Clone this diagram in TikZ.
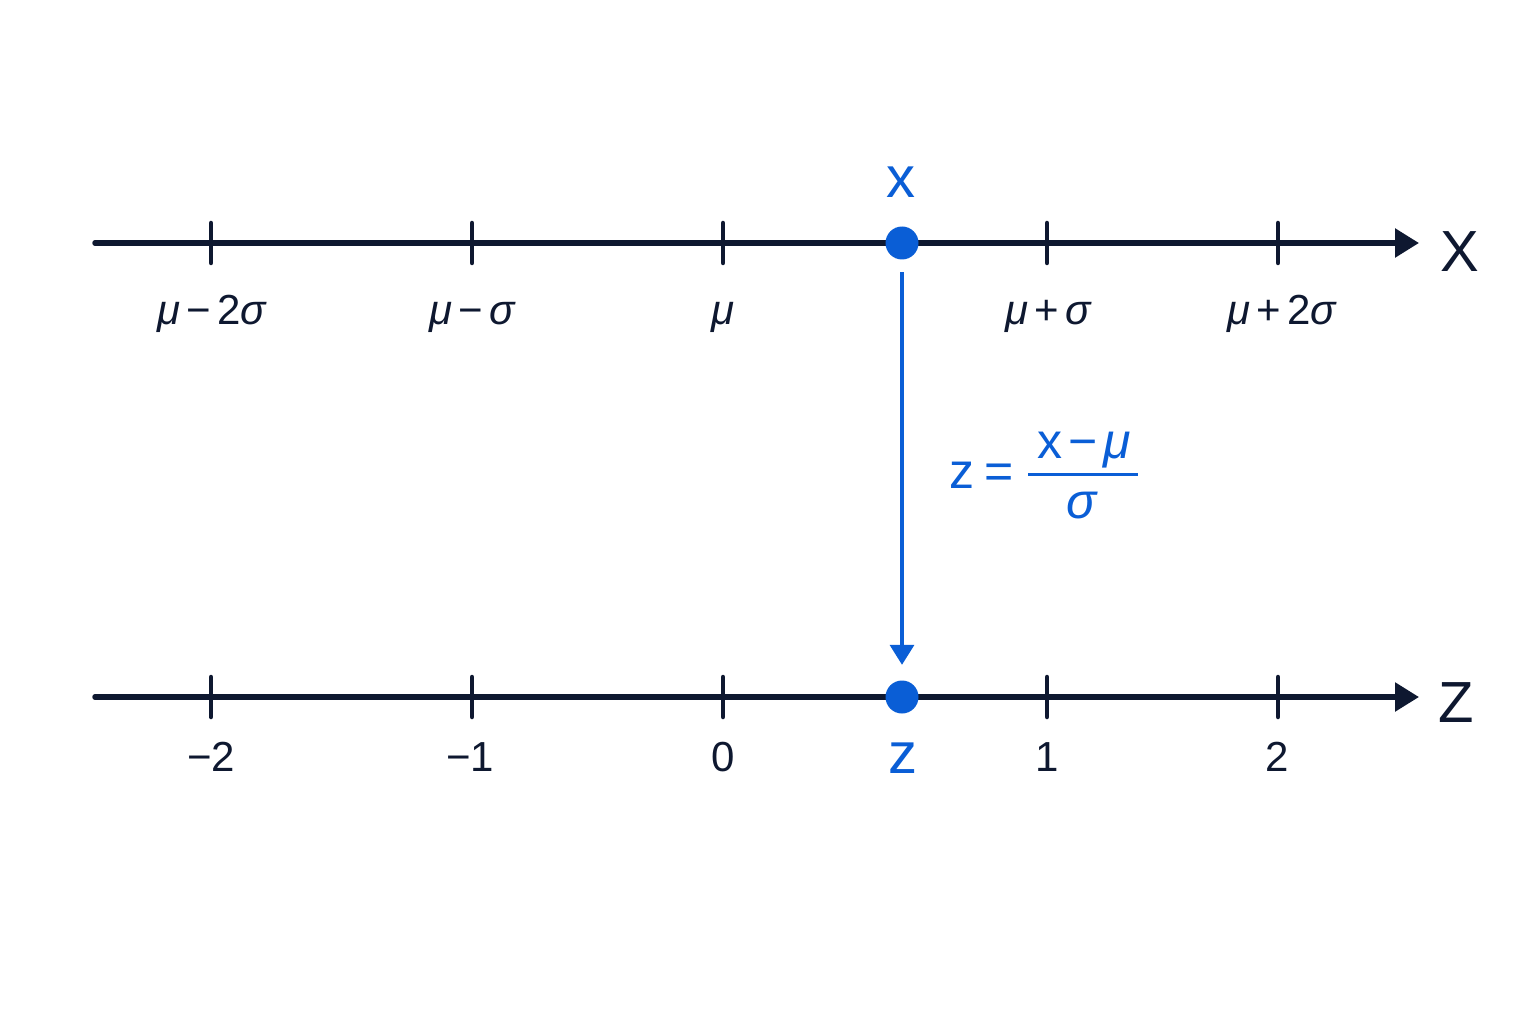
\documentclass[tikz,border=0pt]{standalone}
\usepackage{fontspec}
\setmainfont{Liberation Sans}
\usetikzlibrary{arrows.meta}
\definecolor{navy}{RGB}{14,24,48}
\definecolor{zblue}{RGB}{10,94,214}
\newcommand{\mmu}{{\itshape μ}}
\newcommand{\ssig}{{\itshape σ}}
\newcommand{\mn}{\hspace{6pt}−\hspace{6pt}}
\newcommand{\pl}{\hspace{6pt}+\hspace{6pt}}
\begin{document}
\begin{tikzpicture}[x=1pt,y=-1pt,
  axisline/.style={draw=navy,line width=5.5pt,line cap=round,-{Triangle[length=24pt,width=28pt]}},
  tickmark/.style={draw=navy,line width=4.5pt,line cap=round},
  ticklab/.style={anchor=base,text=navy,font=\fontsize{42}{48}\selectfont,inner sep=0pt},
  axislab/.style={anchor=base,text=navy,font=\fontsize{58}{64}\selectfont,inner sep=0pt},
  bluetext/.style={anchor=base,text=zblue,inner sep=0pt},
  dotnode/.style={circle,fill=zblue,minimum size=33pt,inner sep=0pt},
  maparrow/.style={draw=zblue,line width=3.5pt,-{Triangle[length=20pt,width=24pt]}}
]
\useasboundingbox[fill=white] (0,0) rectangle (1536,1024);
% axes
\coordinate (xa) at (95,243);
\coordinate (xb) at (1419,243);
\coordinate (za) at (95,697);
\coordinate (zb) at (1419,697);
\draw[axisline] (xa) -- (xb);
\draw[axisline] (za) -- (zb);
% ticks
\foreach \n/\px in {a/211,b/472,c/723,d/1047,e/1278}{
  \coordinate (xt\n) at (\px,243);
  \coordinate (zt\n) at (\px,697);
  \draw[tickmark] ([yshift=-20pt]xt\n) -- ([yshift=20pt]xt\n);
  \draw[tickmark] ([yshift=-20pt]zt\n) -- ([yshift=20pt]zt\n);
}
% top labels
\node[ticklab] (l1) at (212,324) {\mmu\mn2\ssig};
\node[ticklab] (l2) at (472,324) {\mmu\mn\ssig};
\node[ticklab] (l3) at (723,324) {\mmu};
\node[ticklab] (l4) at (1048,324) {\mmu\pl\ssig};
\node[ticklab] (l5) at (1282,324) {\mmu\pl2\ssig};
\node[axislab] (X) at (1460,272) {X};
% bottom labels
\node[ticklab] (m1) at (211,771) {−2};
\node[ticklab] (m2) at (470,771) {−1};
\node[ticklab] (m3) at (723,771) {0};
\node[ticklab] (m4) at (1047,771) {1};
\node[ticklab] (m5) at (1277,771) {2};
\node[axislab] (Z) at (1456,722) {Z};
% points
\node[dotnode] (xp) at (902,243) {};
\node[dotnode] (zp) at (902,697) {};
\node[bluetext,font=\fontsize{58}{64}\selectfont] (xl) at (901,198) {x};
\node[bluetext,font=\fontsize{58}{64}\selectfont] (zl) at (903,773) {z};
% mapping arrow
\draw[maparrow,shorten <=12.5pt,shorten >=15.5pt] (xp) -- (zp);
% formula
\node[bluetext,font=\fontsize{50}{56}\selectfont] (feq) at (982,488) {z\hspace{10pt}=};
\node[bluetext,font=\fontsize{50}{56}\selectfont] (fnum) at (1084,458) {x\mn\mmu};
\node[bluetext,font=\fontsize{50}{56}\selectfont] (fden) at (1082,518) {\ssig};
\coordinate (fb1) at (1028,474);
\coordinate (fb2) at (1138,474);
\draw[zblue,line width=3pt] (fb1) -- (fb2);
\end{tikzpicture}
\end{document}
